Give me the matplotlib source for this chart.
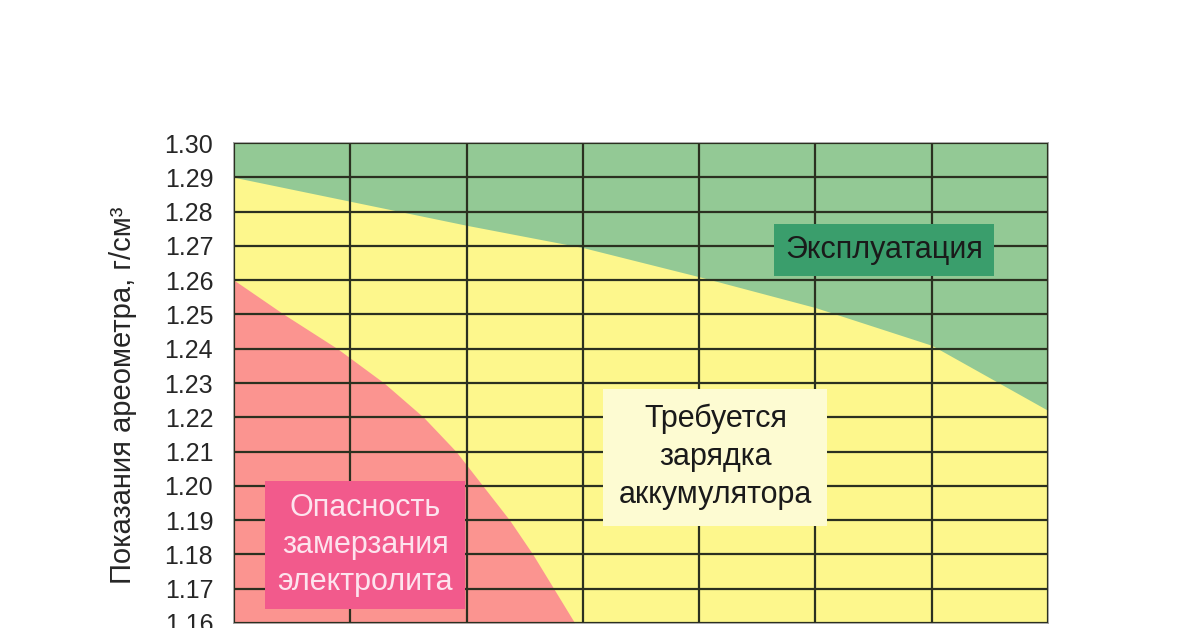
import numpy as np
import matplotlib
matplotlib.use("Agg")
import matplotlib.pyplot as plt
from matplotlib.ticker import FixedLocator

plt.rcParams['font.family'] = ['Liberation Sans', 'DejaVu Sans']

# --- data ---
columns = [0, 1, 2, 3, 4, 5, 6, 7]
# lower edge of the "Эксплуатация" (green) zone at each grid column
green_edge = [1.290, 1.283, 1.276, 1.2695, 1.261, 1.252, 1.241, 1.222]
# right edge of the freezing-danger (red) zone at each density level
red_levels = [1.16, 1.17, 1.18, 1.19, 1.20, 1.21, 1.22, 1.23, 1.24, 1.25, 1.26]
red_edge = [2.93, 2.75, 2.57, 2.37, 2.14, 1.91, 1.63, 1.29, 0.89, 0.43, 0.0]
yticks = [1.30, 1.29, 1.28, 1.27, 1.26, 1.25, 1.24, 1.23, 1.22, 1.21,
          1.20, 1.19, 1.18, 1.17, 1.16]
ylabel = "Показания ареометра, г/см³"
lbl_green = "Эксплуатация"
lbl_yellow = "Требуется\nзарядка\nаккумулятора"
lbl_red = "Опасность\nзамерзания\nэлектролита"

C_GREEN = "#93c995"
C_YELLOW = "#fdf78c"
C_RED = "#fb9490"

fig = plt.figure(figsize=(12, 6.28), dpi=100)
ax = fig.add_axes([234 / 1200, 5 / 628, 814 / 1200, 480 / 628])
ax.set_xlim(0, 7)
ax.set_ylim(1.16, 1.30)

ax.set_facecolor(C_YELLOW)
ax.fill_between(columns, green_edge, 1.30, color=C_GREEN, lw=0, zorder=1)
ax.fill_betweenx(red_levels, 0, red_edge, color=C_RED, lw=0, zorder=1)

# grid
ax.xaxis.set_major_locator(FixedLocator(columns))
ax.yaxis.set_major_locator(FixedLocator(yticks))
ax.grid(True, color="#2b3020", lw=1.6, zorder=2)
ax.set_axisbelow(False)
ax.tick_params(axis='x', length=0, labelbottom=False)
ax.tick_params(axis='y', length=0, pad=15, labelsize=18, labelcolor="#262626")
ax.set_yticklabels([f"{v:.2f}" for v in yticks])
for s in ax.spines.values():
    s.set_color("#9a9a9a")
    s.set_linewidth(1.2)

ax.set_ylabel(ylabel, fontsize=21, color="#262626")
ax.yaxis.set_label_coords(-0.119, 0.475)

ax.text(5.59, 1.2688, lbl_green, ha="center", va="center", fontsize=22,
        color="#1a1a1a", zorder=5,
        bbox=dict(boxstyle="square,pad=0.35", fc="#3a9e6c", ec="none"))
ax.text(4.14, 1.2084, lbl_yellow, ha="center", va="center", fontsize=22,
        color="#1a1a1a", linespacing=1.35, zorder=5,
        bbox=dict(boxstyle="square,pad=0.5", fc="#fdfbd2", ec="none"))
ax.text(1.13, 1.1828, lbl_red, ha="center", va="center", fontsize=22,
        color="#fde4ee", linespacing=1.3, zorder=5,
        bbox=dict(boxstyle="square,pad=0.4", fc="#f25a8c", ec="none"))

fig.savefig("out.png", dpi=100)
